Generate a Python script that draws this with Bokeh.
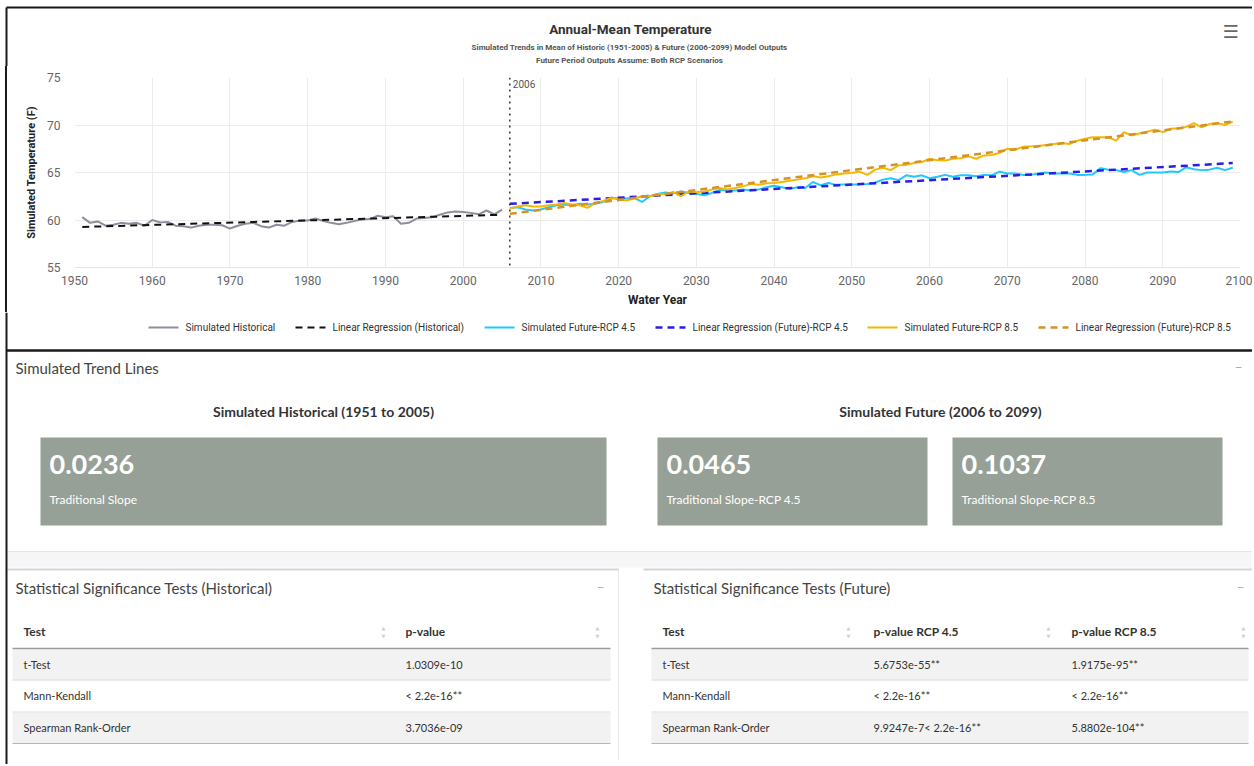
from bokeh.plotting import figure
from bokeh.layouts import column
from bokeh.models import Range1d, Span, Label, FixedTicker
from bokeh.embed import file_html
from bokeh.resources import INLINE
from bokeh.core.properties import value

# ---------------- data ----------------
years_hist = list(range(1951, 2006))
temp_hist = [60.3, 59.7, 59.85, 59.4, 59.5, 59.7, 59.6, 59.7, 59.4, 60.0,
             59.75, 59.8, 59.4, 59.35, 59.2, 59.4, 59.5, 59.5, 59.45, 59.1,
             59.4, 59.6, 59.7, 59.35, 59.2, 59.5, 59.4, 59.8, 59.95, 59.95,
             60.15, 59.9, 59.7, 59.55, 59.7, 59.9, 60.05, 60.1, 60.45, 60.3,
             60.4, 59.6, 59.7, 60.15, 60.2, 60.3, 60.55, 60.8, 60.9, 60.85,
             60.75, 60.6, 61.0, 60.6, 61.1]

years_future = list(range(2006, 2100))
temp_rcp45 = [61.26, 61.35, 61.1, 61.0, 61.1, 61.35, 61.56, 61.63, 61.56, 61.7,
              61.63, 61.7, 61.9, 62.33, 62.26, 62.26, 62.33, 61.9, 62.47, 62.75,
              62.9, 62.8, 63.0, 62.85, 62.75, 62.6, 62.85, 63.16, 63.1, 63.1,
              63.2, 63.1, 63.2, 63.45, 63.6, 63.45, 63.3, 63.45, 63.37, 64.0,
              63.65, 63.9, 63.7, 63.75, 63.75, 63.75, 63.8, 63.95, 64.25, 64.4,
              64.2, 64.7, 64.55, 64.7, 64.4, 64.55, 64.75, 64.55, 64.7, 64.7,
              64.6, 64.75, 64.7, 65.1, 64.9, 64.9, 64.75, 64.75, 64.9, 65.0,
              64.9, 64.9, 64.9, 64.75, 64.75, 64.8, 65.46, 65.3, 65.25, 65.05,
              65.25, 64.75, 65.0, 65.0, 65.0, 65.1, 65.05, 65.55, 65.35, 65.25,
              65.3, 65.5, 65.25, 65.5]
temp_rcp85 = [61.2, 61.42, 61.56, 61.42, 61.42, 61.56, 61.63, 61.8, 61.63, 61.56,
              61.28, 61.8, 62.0, 62.33, 62.16, 62.05, 62.26, 62.5, 62.5, 62.75,
              62.7, 62.95, 62.5, 63.0, 62.95, 63.0, 63.2, 63.37, 63.2, 63.37,
              63.54, 63.8, 63.7, 63.86, 63.9, 64.0, 64.14, 64.25, 64.4, 64.6,
              64.48, 64.6, 64.8, 64.9, 64.95, 65.1, 64.75, 65.3, 65.5, 65.25,
              65.75, 65.8, 66.0, 66.1, 66.45, 66.3, 66.25, 66.45, 66.5, 66.7,
              66.45, 66.8, 66.85, 67.05, 67.5, 67.4, 67.7, 67.75, 67.8, 67.9,
              68.0, 68.1, 68.0, 68.35, 68.55, 68.7, 68.7, 68.7, 68.35, 69.24,
              68.9, 69.1, 69.3, 69.5, 69.25, 69.6, 69.65, 69.8, 70.19, 69.75,
              70.1, 70.2, 70.0, 70.35]

reg_hist_years = [1951, 2005]
reg_hist_vals = [59.27, 60.55]
reg_fut_years = [2006, 2099]
reg_rcp45_vals = [61.7, 65.99]
reg_rcp85_vals = [60.65, 70.37]

split_year = 2006
x_ticks = [1950, 1960, 1970, 1980, 1990, 2000, 2010, 2020, 2030, 2040,
           2050, 2060, 2070, 2080, 2090, 2100]
y_ticks = [55, 60, 65, 70, 75]

series_names = ["Simulated Historical", "Linear Regression (Historical)",
                "Simulated Future-RCP 4.5", "Linear Regression (Future)-RCP 4.5",
                "Simulated Future-RCP 8.5", "Linear Regression (Future)-RCP 8.5"]

chart_title = "Annual-Mean Temperature"
chart_subtitles = ["Simulated Trends in Mean of Historic (1951-2005) & Future (2006-2099) Model Outputs",
                   "Future Period Outputs Assume: Both RCP Scenarios"]

slope_hist = ["0.0236"]
slope_fut = ["0.0465", "0.1037"]
slope_hist_labels = ["Traditional Slope"]
slope_fut_labels = ["Traditional Slope-RCP 4.5", "Traditional Slope-RCP 8.5"]

tests = ["t-Test", "Mann-Kendall", "Spearman Rank-Order"]
p_hist = ["1.0309e-10", "< 2.2e-16**", "3.7036e-09"]
p_rcp45 = ["5.6753e-55**", "< 2.2e-16**", "9.9247e-7< 2.2e-16**"]
p_rcp85 = ["1.9175e-95**", "< 2.2e-16**", "5.8802e-104**"]

# ---------------- styles ----------------
series_styles = [
    dict(line_color="#8e8e9c", line_width=2),
    dict(line_color="#111111", line_width=2, line_dash="7 5"),
    dict(line_color="#1fc8ff", line_width=2),
    dict(line_color="#2a1ee6", line_width=2.5, line_dash="7 5"),
    dict(line_color="#f4b800", line_width=2),
    dict(line_color="#d4922a", line_width=2.5, line_dash="7 5"),
]
legend_x = [148, 295, 484, 655, 867, 1038]   # left edge of each legend item (px)

W = 1252
H0 = 66          # header strip
H1 = 246         # chart
H2 = 452         # legend + panels
CF = "Roboto"
PF = "Lato"
BORDER = "#1a1a1a"


def pixel_fig(h):
    f = figure(width=W, height=h, x_range=Range1d(0, W), y_range=Range1d(h, 0),
               output_backend="svg", toolbar_location=None, min_border=0,
               min_border_left=0, min_border_right=0, min_border_top=0, min_border_bottom=0,
               x_axis_type=None, y_axis_type=None)
    f.frame_align = False
    f.outline_line_color = None
    f.grid.visible = False
    f.background_fill_color = "white"
    f.border_fill_color = "white"
    return f


def make_helpers(f, oy):
    def txt(x, y, s, size, color="#333333", bold=False, align="left", font=PF):
        f.text(x=[x], y=[y - oy], text=[s], text_font=value(font), text_font_size=size,
               text_color=color, text_font_style="bold" if bold else "normal",
               text_align=align, text_baseline="middle")

    def box(x0, x1, y0, y1, color):
        f.quad(left=[x0], right=[x1], top=[y0 - oy], bottom=[y1 - oy],
               fill_color=color, line_color=None)

    def seg(x0, x1, y0, y1, **kw):
        f.line([x0, x1], [y0 - oy, y1 - oy], **kw)

    return txt, box, seg


# ---------------- header (title strip) ----------------
h = pixel_fig(H0)
htxt, hbox, hseg = make_helpers(h, 0)
hseg(6, 1254, 7, 7, line_color=BORDER, line_width=2)
hseg(6, 6, 7, H0, line_color=BORDER, line_width=2)
htxt(630, 28, chart_title, "13.5px", "#333333", bold=True, align="center", font=CF)
htxt(629, 47, chart_subtitles[0], "8px", "#555555", bold=True, align="center", font=CF)
htxt(629, 60, chart_subtitles[1], "8px", "#555555", bold=True, align="center", font=CF)
htxt(1230, 31, "\u2630", "18px", "#666666", align="center", font="DejaVu Sans")

# ---------------- chart ----------------
p = figure(width=W, height=H1, x_range=Range1d(1950, 2100), y_range=Range1d(55, 75),
           output_backend="svg", toolbar_location=None,
           min_border_left=74, min_border_right=W - 1240,
           min_border_top=77 - H0, min_border_bottom=H0 + H1 - 267)
p.frame_align = False
p.outline_line_color = None
p.background_fill_color = "white"
p.border_fill_color = None
p.styles = {"background": "linear-gradient(to right, #ffffff 5px, #1a1a1a 5px, #1a1a1a 7px, #ffffff 7px)"}

p.xgrid.grid_line_color = "#ececec"
p.ygrid.grid_line_color = "#ececec"
p.xaxis.ticker = FixedTicker(ticks=x_ticks)
p.yaxis.ticker = FixedTicker(ticks=y_ticks)
for ax in (p.xaxis, p.yaxis):
    ax.major_tick_line_color = None
    ax.minor_tick_line_color = None
    ax.major_tick_out = 0
    ax.major_tick_in = 0
    ax.minor_tick_out = 0
    ax.major_label_text_font = CF
    ax.major_label_text_font_size = "12px"
    ax.major_label_text_color = "#666666"
    ax.axis_label_text_font = CF
    ax.axis_label_text_font_style = "bold"
    ax.axis_label_text_color = "#222222"
p.yaxis.axis_line_color = None
p.xaxis.axis_line_color = "#e6e6e6"
p.xaxis.major_label_standoff = 8
p.yaxis.major_label_standoff = 14
p.xaxis.axis_label = "Water Year"
p.yaxis.axis_label = "Simulated Temperature (F)"
p.xaxis.axis_label_text_font_size = "12px"
p.yaxis.axis_label_text_font_size = "11px"
p.xaxis.axis_label_standoff = 5
p.yaxis.axis_label_standoff = 6

series_xy = [(years_hist, temp_hist), (reg_hist_years, reg_hist_vals),
             (years_future, temp_rcp45), (reg_fut_years, reg_rcp45_vals),
             (years_future, temp_rcp85), (reg_fut_years, reg_rcp85_vals)]
for (xs, ys), st, name in zip(series_xy, series_styles, series_names):
    p.line(xs, ys, name=name, **st)

p.add_layout(Span(location=split_year, dimension="height", line_color="#333333",
                  line_width=1.5, line_dash="dotted"))
p.add_layout(Label(x=split_year, y=75, x_offset=3, y_offset=-2, text=str(split_year),
                   text_font=CF, text_font_size="10px", text_color="#555555",
                   text_baseline="top", text_align="left"))

# ---------------- legend + panels ----------------
OY = H0 + H1
q = pixel_fig(H2)
txt, box, seg = make_helpers(q, OY)

# legend row
for lx, st, name in zip(legend_x, series_styles, series_names):
    seg(lx, lx + 30, 327, 327, **st)
    txt(lx + 37, 327, name, "10px", "#333333", font=CF)

# chart box bottom border and page left edge
seg(6, 1254, 350, 350, line_color=BORDER, line_width=2.5)

txt(15, 367, "Simulated Trend Lines", "15px", "#444444")
txt(1238, 366, "\u2013", "14px", "#aaaaaa", align="center")

txt(323, 411, "Simulated Historical (1951 to 2005)", "14px", "#333333", bold=True, align="center")
txt(940, 411, "Simulated Future (2006 to 2099)", "14px", "#333333", bold=True, align="center")

BOXC = "#97a097"
for (x0, x1), v, lab in zip([(40, 606)], slope_hist, slope_hist_labels):
    box(x0, x1, 437, 525, BOXC)
    txt(x0 + 9, 464, v, "27px", "white", bold=True)
    txt(x0 + 9, 499, lab, "12px", "white")
for (x0, x1), v, lab in zip([(657, 927), (952, 1222)], slope_fut, slope_fut_labels):
    box(x0, x1, 437, 525, BOXC)
    txt(x0 + 9, 464, v, "27px", "white", bold=True)
    txt(x0 + 9, 499, lab, "12px", "white")

# separator band
box(7, 1254, 551, 567, "#f6f6f6")
seg(7, 1254, 551, 551, line_color="#e6e6e6", line_width=1)

# panels
for (px0, px1) in [(7, 618), (643, 1254)]:
    box(px0, px1, 568, 766, "white")
    seg(px0, px1, 569, 569, line_color="#d2d6de", line_width=2)
seg(618, 618, 569, 760, line_color="#e8e8e8", line_width=1)
seg(6, 6, OY, 766, line_color=BORDER, line_width=2)

txt(15, 587, "Statistical Significance Tests (Historical)", "15px", "#444444")
txt(600, 586, "\u2013", "14px", "#aaaaaa", align="center")
txt(653, 587, "Statistical Significance Tests (Future)", "15px", "#444444")
txt(1240, 586, "\u2013", "14px", "#aaaaaa", align="center")

ROWY = [664, 695, 727]


def table(x0, x1, colx, iconx, headers, cols):
    for i, ry in enumerate(ROWY):
        if i % 2 == 0:
            box(x0, x1, ry - 15, ry + 16, "#f2f2f2")
        if i > 0:
            seg(x0, x1, ry - 15.5, ry - 15.5, line_color="#dddddd", line_width=1)
    seg(x0, x1, 648, 648, line_color="#9a9a9a", line_width=1.5)
    seg(x0, x1, 743, 743, line_color="#b5b5b5", line_width=1.2)
    for cx, hd in zip(colx, headers):
        txt(cx, 631, hd, "12px", "#333333", bold=True)
    for ix in iconx:
        txt(ix, 627, "\u25b2", "5px", "#d0d0d0", align="center", font="DejaVu Sans")
        txt(ix, 635, "\u25bc", "5px", "#d0d0d0", align="center", font="DejaVu Sans")
    for cx, col in zip(colx, cols):
        for ry, s in zip(ROWY, col):
            txt(cx, ry, s, "11px", "#333333")


table(12, 610, [23, 405], [383, 597], ["Test", "p-value"], [tests, p_hist])
table(651, 1248, [662, 873, 1071], [848, 1048, 1243],
      ["Test", "p-value RCP 4.5", "p-value RCP 8.5"], [tests, p_rcp45, p_rcp85])

layout = column(h, p, q, spacing=0)
open("out.html", "w").write(file_html(layout, INLINE))
